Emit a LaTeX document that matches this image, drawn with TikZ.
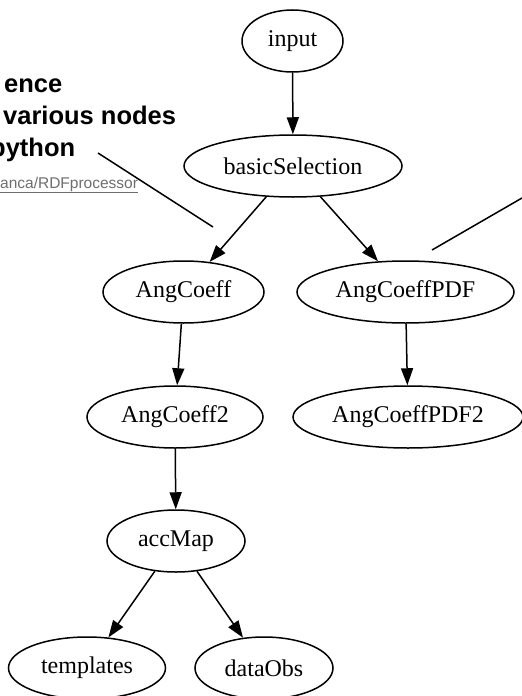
\documentclass[tikz,border=0pt]{standalone}
\usepackage{fontspec}
\setmainfont{Liberation Serif}
\newfontfamily\annfont{Liberation Sans}
\usetikzlibrary{shapes.geometric,arrows.meta}
\definecolor{linkgray}{HTML}{6E6E6E}
\tikzset{
  gnode/.style={ellipse, draw, line width=1.5pt, inner sep=0pt, minimum height=62pt,
    font=\fontsize{24}{28}\selectfont},
  gedge/.style={line width=1.5pt, -{Triangle[length=17pt,width=12pt]}},
  annline/.style={line width=1.5pt},
  anntext/.style={anchor=base west, inner sep=0pt, font=\annfont\bfseries\fontsize{25.5}{30}\selectfont},
  linktext/.style={anchor=base west, inner sep=0pt, text=linkgray, font=\annfont\fontsize{15.5}{18}\selectfont}
}
\begin{document}
\begin{tikzpicture}[x=1pt,y=-1pt]
\useasboundingbox (0,0) rectangle (522,696);
% nodes
\node[gnode, minimum width=101pt] (input) at (292.5,41) {input};
\node[gnode, minimum width=218pt] (basic) at (293,166) {basicSelection};
\node[gnode, minimum width=161pt] (ang) at (183.5,292) {AngCoeff};
\node[gnode, minimum width=217pt] (angpdf) at (405.5,292) {AngCoeffPDF};
\node[gnode, minimum width=176pt] (ang2) at (175,417) {AngCoeff2};
\node[gnode, minimum width=230pt] (angpdf2) at (408,417) {AngCoeffPDF2};
\node[gnode, minimum width=138pt] (acc) at (176,541) {accMap};
\node[gnode, minimum width=157pt] (tmpl) at (87,668) {templates};
\node[gnode, minimum width=138pt] (data) at (264,668) {dataObs};
% edges
\draw[gedge] (input) -- (basic);
\draw[gedge] (basic) -- (ang);
\draw[gedge] (basic) -- (angpdf);
\draw[gedge] (ang) -- (ang2);
\draw[gedge] (angpdf) -- (angpdf2);
\draw[gedge] (ang2) -- (acc);
\draw[gedge] (acc) -- (tmpl);
\draw[gedge] (acc) -- (data);
% annotation text
\node[anntext] (t1) at (4,92) {ence};
\node[anntext] (t2) at (3,124) {various nodes};
\node[anntext] (t3) at (-10,156) {python};
\node[linktext] (t4) at (0,188) {\underline{anca/RDFprocessor}};
% annotation lines
\coordinate (la) at (98,153);
\coordinate (lb) at (213,227);
\coordinate (ra) at (432,250);
\coordinate (rb) at (522,198);
\draw[annline] (la) -- (lb);
\draw[annline] (ra) -- (rb);
\end{tikzpicture}
\end{document}
